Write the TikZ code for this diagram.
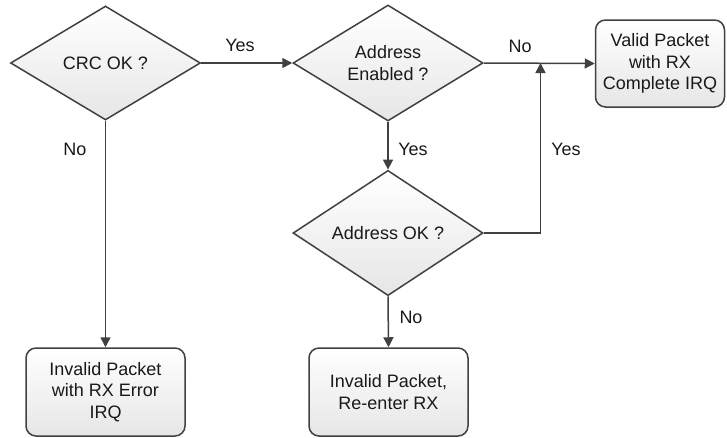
\documentclass[tikz,border=0pt]{standalone}
\usepackage{fontspec}
\setmainfont{Liberation Sans}
\usetikzlibrary{shapes.geometric,arrows.meta}
\definecolor{linec}{HTML}{404040}
\definecolor{fillb}{HTML}{E6E6E6}
\begin{document}
\begin{tikzpicture}[x=1pt,y=-1pt,
  every node/.style={font=\fontsize{18}{21.7}\selectfont, text=black!90},
  dec/.style={shape=diamond, draw=linec, line width=1.5pt, inner sep=0pt,
    minimum width=190pt, minimum height=114pt, align=center,
    top color=white, bottom color=fillb},
  proc/.style={rectangle, rounded corners=10pt, draw=linec, line width=1.5pt,
    minimum width=159pt, minimum height=88pt, align=center, inner sep=2pt,
    top color=white, bottom color=fillb},
  arr/.style={draw=linec, line width=1.5pt, -{Triangle[length=10pt,width=10pt]}},
  lbl/.style={inner sep=0pt}]
\useasboundingbox (0,0) rectangle (727,437);
\node[dec] (crc) at (105.5,63) {CRC OK ?};
\node[dec] (aen) at (388,63) {Address\\Enabled ?};
\node[dec] (aok) at (388,233) {Address OK ?};
\node[proc, minimum width=129pt, minimum height=87pt] (valid) at (660,63.5) {Valid Packet\\with RX\\Complete IRQ};
\node[proc] (err) at (105.5,392) {Invalid Packet\\with RX Error\\IRQ};
\node[proc] (reent) at (388.5,392) {Invalid Packet,\\Re-enter RX};
\coordinate (j) at (540.5,63);
\draw[arr] (crc.east) -- (aen.west);
\draw[arr] (aen.east) -- (valid.west);
\draw[arr] (crc.south) -- (err.north);
\draw[arr] (aen.south) -- (aok.north);
\draw[arr] (aok.south) -- (reent.north);
\draw[arr] (aok.east) -| (j);
\node[lbl] (l1) at (240,45) {Yes};
\node[lbl] (l2) at (75,149) {No};
\node[lbl] (l3) at (413,149) {Yes};
\node[lbl] (l4) at (520,46) {No};
\node[lbl] (l5) at (566,149) {Yes};
\node[lbl] (l6) at (411,317) {No};
\end{tikzpicture}
\end{document}
